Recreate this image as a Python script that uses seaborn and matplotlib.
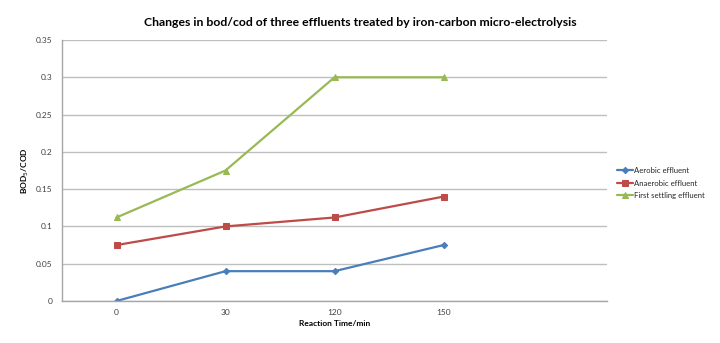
import matplotlib
matplotlib.use("Agg")
import matplotlib.pyplot as plt
import seaborn as sns
import pandas as pd

categories = ["0", "30", "120", "150"]
aerobic = [0.0, 0.04, 0.04, 0.075]
anaerobic = [0.075, 0.1, 0.112, 0.14]
first_settling = [0.112, 0.175, 0.3, 0.3]
series_names = ["Aerobic effluent", "Anaerobic effluent", "First settling effluent"]
yticks = [0, 0.05, 0.1, 0.15, 0.2, 0.25, 0.3, 0.35]
ytick_labels = ["0", "0.05", "0.1", "0.15", "0.2", "0.25", "0.3", "0.35"]

sns.set_theme(style="white")
plt.rcParams["font.family"] = ["Lato", "DejaVu Sans"]

rows = []
for name, vals in zip(series_names, [aerobic, anaerobic, first_settling]):
    for i, (c, v) in enumerate(zip(categories, vals)):
        rows.append({"pos": i, "time": c, "value": v, "series": name})
df = pd.DataFrame(rows)

colors = {"Aerobic effluent": "#4A7EBB",
          "Anaerobic effluent": "#BE4B48",
          "First settling effluent": "#98B954"}
markers = {"Aerobic effluent": "D",
           "Anaerobic effluent": "s",
           "First settling effluent": "^"}
msizes = {"Aerobic effluent": 3.2, "Anaerobic effluent": 4.5, "First settling effluent": 5}

fig = plt.figure(figsize=(7.2, 3.43), dpi=100)
ax = fig.add_axes([62/720, 1-301/343, (607-62)/720, (301-40)/343])

for name in series_names:
    sub = df[df["series"] == name]
    sns.lineplot(data=sub, x="pos", y="value", ax=ax, color=colors[name],
                 marker=markers[name], markersize=msizes[name],
                 markeredgecolor=colors[name], linewidth=1.6, label=name)

ax.set_xlim(-0.5, 4.5)
ax.set_ylim(0, 0.35)
ax.set_xticks(range(len(categories)))
ax.set_xticklabels(categories)
ax.set_yticks(yticks)
ax.set_yticklabels(ytick_labels)
ax.tick_params(axis="both", labelsize=6, colors="#404040", length=0, pad=6)
ax.tick_params(axis="y", length=3, color="#a0a0a0", direction="out", width=0.8, pad=4)
ax.yaxis.grid(True, color="#bfbfbf", linewidth=1.0)
ax.set_axisbelow(True)
for s in ["top", "right"]:
    ax.spines[s].set_visible(False)
for s in ["left", "bottom"]:
    ax.spines[s].set_color("#a6a6a6")
    ax.spines[s].set_linewidth(1.0)

ax.set_xlabel("Reaction Time/min", fontsize=6, fontweight="bold", color="#000000", labelpad=3)
ax.set_ylabel("BOD$_5$/COD", fontsize=6, fontweight="bold", color="#000000")
ax.yaxis.set_label_coords((31 - 62) / 545, 0.5)

fig.text(0.5, 1-23/343, "Changes in bod/cod of three effluents treated by iron-carbon micro-electrolysis",
         ha="center", va="center", fontsize=8.8, fontweight="bold", color="#000000")

leg = ax.legend(loc="center left", bbox_to_anchor=(610/720, 1-183/343),
                bbox_transform=fig.transFigure, frameon=False, fontsize=5.6,
                handlelength=2.0, handletextpad=0.2, labelspacing=0.7)

fig.savefig("out.png", dpi=100)
